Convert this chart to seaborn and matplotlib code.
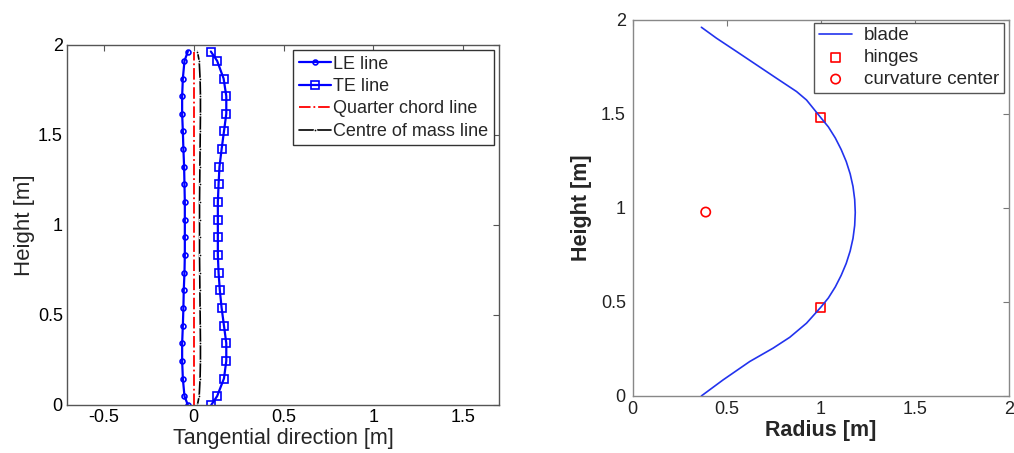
import matplotlib
matplotlib.use("Agg")
import matplotlib.pyplot as plt
import seaborn as sns
import pandas as pd

# ---------------- data ----------------
heights = [0, 0.049, 0.147, 0.245, 0.343, 0.441, 0.539, 0.637, 0.735, 0.833, 0.931,
           1.029, 1.127, 1.225, 1.323, 1.421, 1.519, 1.617, 1.715, 1.813, 1.911, 1.963]
le_x = [-0.033, -0.052, -0.061, -0.065, -0.065, -0.061, -0.058, -0.056, -0.052, -0.050, -0.050,
        -0.050, -0.050, -0.052, -0.054, -0.058, -0.061, -0.065, -0.065, -0.061, -0.052, -0.033]
te_x = [0.097, 0.130, 0.168, 0.181, 0.181, 0.168, 0.155, 0.145, 0.138, 0.134, 0.134,
        0.134, 0.134, 0.138, 0.143, 0.155, 0.168, 0.181, 0.181, 0.166, 0.130, 0.095]
com_x = [0.020, 0.030, 0.035, 0.037, 0.037, 0.036, 0.035, 0.034, 0.033, 0.032, 0.032,
         0.032, 0.032, 0.033, 0.034, 0.035, 0.036, 0.037, 0.037, 0.035, 0.030, 0.020]
qc_x = [0.0] * len(heights)

blade_r = [0.365, 0.480, 0.622, 0.746, 0.835, 0.924, 1.0, 1.040, 1.077, 1.108,
           1.135, 1.156, 1.171, 1.180, 1.183, 1.180, 1.171, 1.156, 1.135, 1.108, 1.077,
           1.040, 1.0, 0.924, 0.871, 0.764, 0.658, 0.552, 0.445, 0.365]
blade_h = [0, 0.085, 0.183, 0.254, 0.312, 0.387, 0.472, 0.521, 0.580, 0.641,
           0.705, 0.771, 0.838, 0.907, 0.976, 1.045, 1.114, 1.181, 1.247, 1.311, 1.372,
           1.431, 1.48, 1.574, 1.619, 1.690, 1.761, 1.832, 1.903, 1.961]
hinge_r = [1.0, 1.0]
hinge_h = [0.472, 1.48]
center_r = [0.388]
center_h = [0.978]

left_xticks = [-0.5, 0, 0.5, 1, 1.5]
left_xticklabels = ["-0.5", "0", "0.5", "1", "1.5"]
yticks = [0, 0.5, 1, 1.5, 2]
yticklabels = ["0", "0.5", "1", "1.5", "2"]
right_xticks = [0, 0.5, 1, 1.5, 2]
right_xticklabels = ["0", "0.5", "1", "1.5", "2"]

# ---------------- style ----------------
sns.set_theme(style="white")
plt.rcParams["font.family"] = ["Liberation Sans", "DejaVu Sans"]
plt.rcParams["axes.edgecolor"] = "#555555"
plt.rcParams["axes.linewidth"] = 1.0
plt.rcParams["xtick.direction"] = "in"
plt.rcParams["ytick.direction"] = "in"

fig = plt.figure(figsize=(10.14, 4.53), dpi=100)
ax1 = fig.add_axes([0.066, 0.106, 0.426, 0.795])
ax2 = fig.add_axes([0.624, 0.126, 0.371, 0.830])

df = pd.DataFrame({"h": heights, "le": le_x, "te": te_x, "com": com_x, "qc": qc_x})

blue = "#0000ff"
sns.lineplot(data=df, x="le", y="h", ax=ax1, sort=False, estimator=None, color=blue,
             lw=1.6, marker="o", markersize=3.5, markerfacecolor="none",
             markeredgecolor=blue, markeredgewidth=1.2, label="LE line")
sns.lineplot(data=df, x="te", y="h", ax=ax1, sort=False, estimator=None, color=blue,
             lw=1.6, marker="s", markersize=5.5, markerfacecolor="none",
             markeredgecolor=blue, markeredgewidth=1.2, label="TE line")
sns.lineplot(data=df, x="qc", y="h", ax=ax1, sort=False, estimator=None, color="red",
             lw=1.3, linestyle="-.", label="Quarter chord line")
sns.lineplot(data=df, x="com", y="h", ax=ax1, sort=False, estimator=None, color="black",
             lw=1.2, marker=".", markersize=4, label="Centre of mass line")

ax1.set_xlim(-0.707, 1.70)
ax1.set_ylim(0, 2)
ax1.set_xticks(left_xticks)
ax1.set_xticklabels(left_xticklabels)
ax1.set_yticks(yticks)
ax1.set_yticklabels(yticklabels)
ax1.tick_params(axis="both", labelsize=13, length=4, width=0.8, colors="#555555",
                labelcolor="black", top=True, right=True, pad=3)
ax1.set_xlabel("Tangential direction [m]", fontsize=15.5, labelpad=1)
ax1.set_ylabel("Height [m]", fontsize=16, labelpad=2)
leg1 = ax1.legend(loc="upper right", bbox_to_anchor=(0.988, 0.985), fontsize=13,
                  frameon=True, fancybox=False, shadow=False, framealpha=1,
                  edgecolor="#333333", handlelength=1.8, handletextpad=0.1,
                  labelspacing=0.3, borderpad=0.3, borderaxespad=0)
leg1.get_frame().set_linewidth(1.0)

# right plot
dfb = pd.DataFrame({"r": blade_r, "h": blade_h})
dfh = pd.DataFrame({"r": hinge_r, "h": hinge_h})
dfc = pd.DataFrame({"r": center_r, "h": center_h})
sns.lineplot(data=dfb, x="r", y="h", ax=ax2, sort=False, estimator=None, color="#2233ee",
             lw=1.2, label="blade")
sns.scatterplot(data=dfh, x="r", y="h", ax=ax2, marker="s", s=45, facecolor="none",
                edgecolor="red", linewidth=1.2, label="hinges")
sns.scatterplot(data=dfc, x="r", y="h", ax=ax2, marker="o", s=45, facecolor="none",
                edgecolor="red", linewidth=1.2, label="curvature center")

ax2.set_xlim(0, 2)
ax2.set_ylim(0, 2)
ax2.set_xticks(right_xticks)
ax2.set_xticklabels(right_xticklabels)
ax2.set_yticks(yticks)
ax2.set_yticklabels(yticklabels)
ax2.tick_params(axis="both", labelsize=13, length=4, width=0.8, colors="#777777",
                labelcolor="#222222", top=True, right=True)
ax2.tick_params(axis="x", pad=4)
ax2.tick_params(axis="y", pad=5)
ax2.set_xlabel("Radius [m]", fontsize=15.5, fontweight="bold", labelpad=1)
ax2.set_ylabel("Height [m]", fontsize=15.5, fontweight="bold", labelpad=6)
for s in ax2.spines.values():
    s.set_color("#888888")
leg2 = ax2.legend(loc="upper right", bbox_to_anchor=(0.986, 0.993), fontsize=13.5,
                  frameon=True, fancybox=False, shadow=False, framealpha=1,
                  edgecolor="#555555", handlelength=1.8, handletextpad=0.6,
                  labelspacing=0.25, borderpad=0.25, borderaxespad=0)
leg2.get_frame().set_linewidth(1.0)

fig.savefig("out.png", dpi=100)
